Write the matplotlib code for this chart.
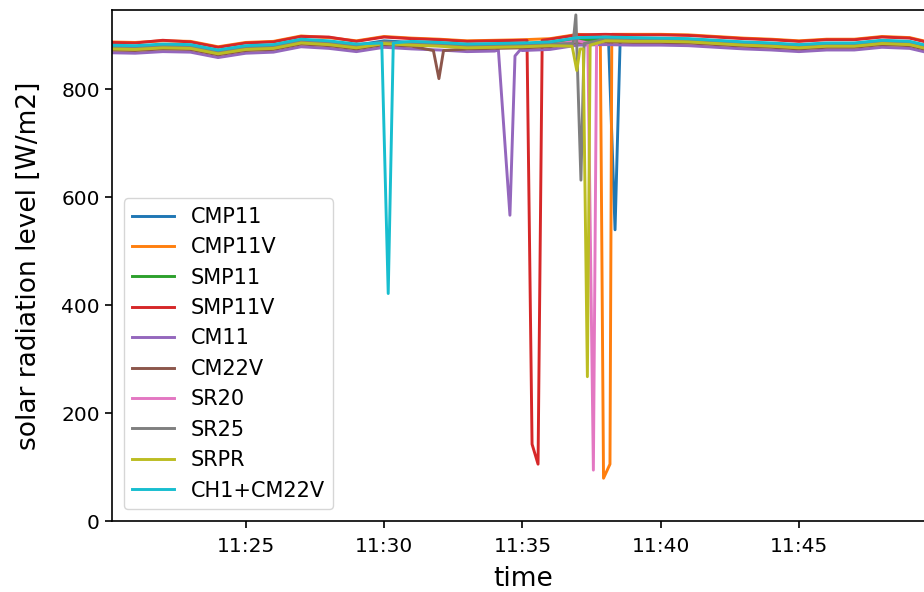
import numpy as np
import matplotlib
matplotlib.use("Agg")
import matplotlib.pyplot as plt
import matplotlib.dates as mdates

# Baseline samples: one per minute from 11:20 to 11:50
knot_sec = np.arange(0, 1801, 60)
day_start = np.datetime64("2020-06-15T11:20:00")

names = ["CMP11", "CMP11V", "SMP11", "SMP11V", "CM11",
         "CM22V", "SR20", "SR25", "SRPR", "CH1+CM22V"]

cmp11 = [880, 879, 882, 881, 871, 879, 881, 891, 888, 882, 890, 887, 885, 882, 883, 884,
         886, 894, 895, 894, 894, 893, 890, 887, 885, 882, 885, 885, 890, 888, 876]
cmp11v = [888, 887, 890, 889, 879, 887, 889, 899, 896, 890, 898, 895, 893, 890, 891, 892,
          894, 902, 903, 902, 902, 901, 898, 895, 893, 890, 893, 893, 898, 896, 884]
smp11 = [877, 876, 879, 878, 868, 876, 878, 888, 885, 879, 887, 884, 882, 879, 880, 881,
         883, 891, 892, 891, 891, 890, 887, 884, 882, 879, 882, 882, 887, 885, 873]
smp11v = [887, 886, 891, 888, 878, 886, 888, 898, 897, 889, 897, 894, 892, 889, 890, 891,
          893, 901, 902, 901, 901, 900, 897, 894, 892, 889, 892, 892, 897, 895, 883]
cm11 = [868, 867, 870, 869, 859, 867, 869, 879, 876, 870, 878, 875, 873, 870, 871, 872,
        874, 882, 883, 882, 882, 881, 878, 875, 873, 870, 873, 873, 878, 876, 864]
cm22v = [873, 872, 875, 874, 864, 872, 874, 884, 881, 875, 883, 880, 878, 875, 876, 877,
         879, 887, 888, 887, 887, 886, 883, 880, 878, 875, 878, 878, 883, 881, 869]
sr20 = [876, 875, 878, 877, 867, 875, 877, 887, 884, 878, 886, 883, 881, 878, 879, 880,
        882, 890, 891, 890, 890, 889, 886, 883, 881, 878, 881, 881, 886, 884, 872]
sr25 = [878, 877, 880, 879, 869, 877, 879, 889, 886, 880, 888, 885, 883, 880, 881, 882,
        884, 892, 893, 892, 892, 891, 888, 885, 883, 880, 883, 883, 888, 886, 874]
srpr = [875, 874, 877, 876, 866, 874, 876, 886, 883, 877, 885, 882, 880, 877, 878, 879,
        881, 889, 890, 889, 889, 888, 885, 882, 880, 877, 880, 880, 885, 883, 871]
ch1_cm22v = [882, 881, 884, 883, 873, 881, 883, 893, 890, 884, 892, 889, 887, 884, 885, 886,
             888, 896, 897, 896, 895, 894, 891, 888, 886, 883, 886, 886, 891, 889, 877]

# Short shading events: (seconds after 11:20, W/m2)
cmp11_evt_t = [1087, 1101, 1112]
cmp11_evt_v = [888, 540, 888]
cmp11v_evt_t = [1069, 1076, 1090, 1094]
cmp11v_evt_v = [900, 80, 106, 902]
smp11_evt_t = []
smp11_evt_v = []
smp11v_evt_t = [910, 921, 934, 943]
smp11v_evt_v = [891, 143, 106, 891]
cm11_evt_t = [848, 873, 884, 895]
cm11_evt_v = [873, 567, 862, 873]
cm22v_evt_t = [707, 719, 729]
cm22v_evt_v = [872, 820, 872]
sr20_evt_t = [1042, 1054, 1061]
sr20_evt_v = [886, 95, 886]
sr25_evt_t = [1010, 1016, 1027, 1034]
sr25_evt_v = [885, 938, 632, 885]
srpr_evt_t = [1008, 1018, 1025, 1032, 1041, 1047]
srpr_evt_v = [880, 835, 875, 875, 268, 882]
ch1_evt_t = [595, 609, 620]
ch1_evt_v = [886, 422, 886]

baselines = [cmp11, cmp11v, smp11, smp11v, cm11, cm22v, sr20, sr25, srpr, ch1_cm22v]
events = [(cmp11_evt_t, cmp11_evt_v), (cmp11v_evt_t, cmp11v_evt_v),
          (smp11_evt_t, smp11_evt_v), (smp11v_evt_t, smp11v_evt_v),
          (cm11_evt_t, cm11_evt_v), (cm22v_evt_t, cm22v_evt_v),
          (sr20_evt_t, sr20_evt_v), (sr25_evt_t, sr25_evt_v),
          (srpr_evt_t, srpr_evt_v), (ch1_evt_t, ch1_evt_v)]


def merge(base, evt):
    et, ev = np.asarray(evt[0], float), np.asarray(evt[1], float)
    base = np.asarray(base, float)
    if len(et):
        keep = (knot_sec < et[0]) | (knot_sec > et[-1])
    else:
        keep = np.ones(len(knot_sec), bool)
    t = np.concatenate([knot_sec[keep], et])
    v = np.concatenate([base[keep], ev])
    order = np.argsort(t, kind="stable")
    times = day_start + np.round(t[order]).astype("timedelta64[s]")
    return times, v[order]


fig = plt.figure(figsize=(9.24, 5.92), dpi=100)
ax = fig.add_axes([111.6 / 924, (592 - 521.4) / 592, (935 - 111.6) / 924, (521.4 - 9.5) / 592])

for name, base, evt in zip(names, baselines, events):
    t, v = merge(base, evt)
    ax.plot(t, v, lw=2.1, label=name)

ax.set_xlim(np.datetime64("2020-06-15T11:20:09"), np.datetime64("2020-06-15T11:49:55"))
ax.set_ylim(0, 948)
ax.set_yticks([0, 200, 400, 600, 800])
ax.xaxis.set_major_locator(mdates.MinuteLocator(byminute=range(0, 60, 5)))
ax.xaxis.set_major_formatter(mdates.DateFormatter("%H:%M"))
ax.tick_params(labelsize=14.5, length=5, width=1.2)
ax.tick_params(axis="x", pad=6.5)
for s in ax.spines.values():
    s.set_linewidth(1.2)

ax.set_xlabel("time", fontsize=19, labelpad=7)
ax.set_ylabel("solar radiation level [W/m2]", fontsize=19, labelpad=14)
ax.legend(loc="lower left", fontsize=15, handlelength=2.0, labelspacing=0.5,
          borderaxespad=0.6)

fig.savefig("out.png", dpi=100)
